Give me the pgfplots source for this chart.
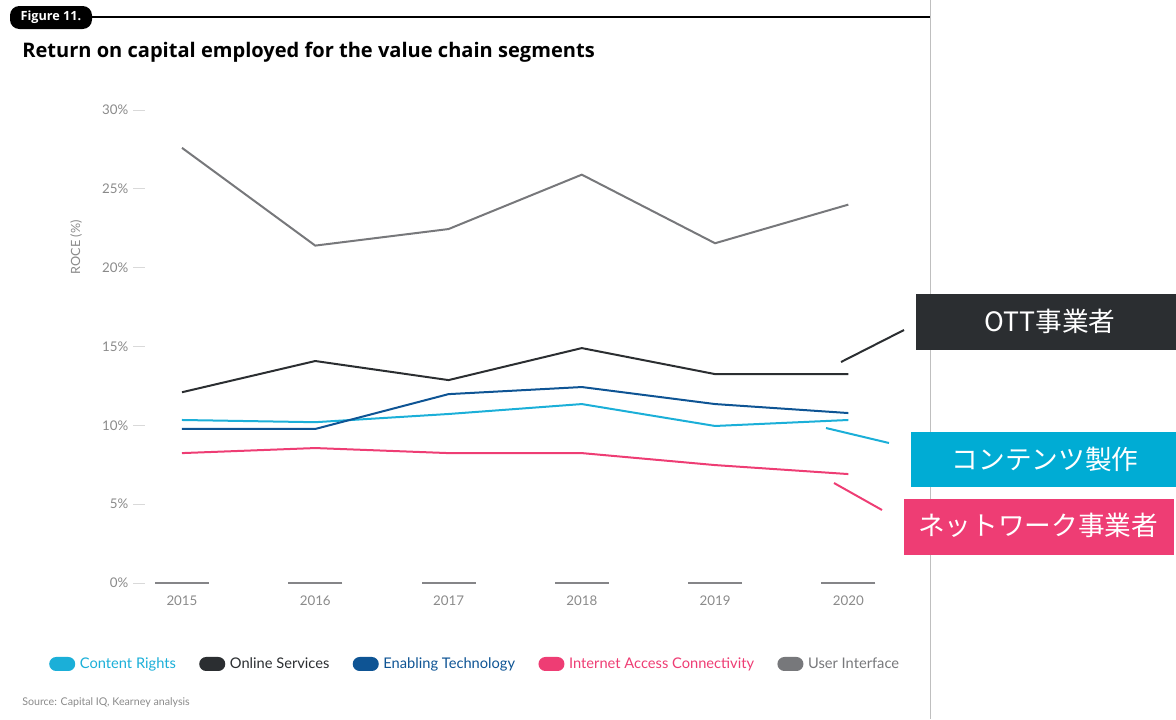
\documentclass[border=0pt]{standalone}
\usepackage{fontspec}
\setmainfont{Lato}
\newfontfamily\titlefont{Open Sans}
\newfontfamily\cjk{Noto Sans CJK JP}
\usepackage{pgfplots}
\pgfplotsset{compat=1.18}
\definecolor{cr}{HTML}{1BAFD8}
\definecolor{crbox}{HTML}{00ACD4}
\definecolor{os}{HTML}{2B2E31}
\definecolor{et}{HTML}{0E5494}
\definecolor{iac}{HTML}{EE3D74}
\definecolor{ui}{HTML}{77787B}
\definecolor{lbl}{HTML}{8A8A8A}
\begin{document}
\begin{tikzpicture}[x=0.75pt,y=-0.75pt]
\path[use as bounding box] (0,0) rectangle (1176,719);
\draw[black, line width=1pt] (90,17) -- (930,17);
\draw[black!25, line width=0.75pt] (930,0) -- (930,719);
\fill[black, rounded corners=7pt] (10,6) rectangle (92,29);
\node[white, font=\titlefont\bfseries\fontsize{9.5}{11}\selectfont] at (51,17.5) {Figure 11.};
\node[anchor=base west, inner sep=0pt, font=\titlefont\bfseries\fontsize{15.05}{17}\selectfont] at (22,57) {Return on capital employed for the value chain segments};
\begin{axis}[
  at={(99.75pt,-437.25pt)}, anchor=south west,
  width=556.5pt, height=354.75pt, scale only axis,
  xmin=-0.3675, xmax=5.2, ymin=0, ymax=30,
  axis line style={draw=none},
  xtick={0,1,2,3,4,5}, xticklabels={2015,2016,2017,2018,2019,2020},
  ytick={0,5,10,15,20,25,30},
  /pgf/number format/assume math mode=true,
  yticklabel={\pgfmathprintnumber{\tick}\%},
  xtick pos=bottom, ytick pos=left, tick align=inside,
  major tick length=9pt,
  x tick style={draw=none},
  y tick style={black!15, line width=0.75pt},
  ticklabel style={font=\fontsize{10}{12}\selectfont, text=lbl},
  xticklabel style={yshift=-6pt},
  ylabel={ROCE (\%)},
  ylabel style={at={(axis description cs:-0.0768,0.71)}, anchor=center, font=\fontsize{9.5}{11}\selectfont, text=lbl},
  clip=false,
  legend columns=5,
  legend style={at={(axis description cs:0.4616,-0.1712)}, anchor=center, draw=none, fill=none,
    font=\fontsize{11}{13}\selectfont,
    /tikz/every even column/.append style={column sep=15.5pt}},
  legend image code/.code={\fill[rounded corners=4.5pt] (0pt,-4.5pt) rectangle (18pt,4.5pt);},
]
\addplot[forget plot, only marks, mark=-, mark size=20.25pt, mark options={line width=1.5pt, draw=ui!90}] coordinates {(0,0)(1,0)(2,0)(3,0)(4,0)(5,0)};
\addplot[color=cr, line width=1.5pt] coordinates {(0,10.34)(1,10.2)(2,10.72)(3,11.35)(4,9.96)(5,10.34)};
\addlegendentry{\hspace{1.5pt}\textcolor{cr}{Content Rights}}
\addplot[color=os, line width=1.5pt] coordinates {(0,12.1)(1,14.08)(2,12.87)(3,14.9)(4,13.25)(5,13.25)};
\addlegendentry{\hspace{1.5pt}\textcolor{os}{Online Services}}
\addplot[color=et, line width=1.5pt] coordinates {(0,9.77)(1,9.77)(2,11.98)(3,12.43)(4,11.35)(5,10.78)};
\addlegendentry{\hspace{1.5pt}\textcolor{et}{Enabling Technology}}
\addplot[color=iac, line width=1.5pt] coordinates {(0,8.24)(1,8.56)(2,8.24)(3,8.24)(4,7.48)(5,6.91)};
\addlegendentry{\hspace{1.5pt}\textcolor{iac}{Internet Access Connectivity}}
\addplot[color=ui, line width=1.5pt] coordinates {(0,27.6)(1,21.4)(2,22.45)(3,25.9)(4,21.55)(5,24.0)};
\addlegendentry{\hspace{1.5pt}\textcolor{ui}{User Interface}}
\end{axis}
\node[anchor=base west, inner sep=0pt, text=lbl, font=\fontsize{8}{10}\selectfont] at (22,705) {Source: Capital IQ, Kearney analysis};
\draw[os, line width=1.5pt] (841,362) -- (904,330);
\fill[os] (916,294) rectangle (1176,350);
\node[white, font=\cjk\fontsize{20}{24}\selectfont] at (1050,321) {OTT事業者};
\draw[cr, line width=1.5pt] (826,428) -- (889,443);
\fill[crbox] (911,432) rectangle (1176,487);
\node[white, font=\cjk\fontsize{20}{24}\selectfont] at (1045,459) {コンテンツ製作};
\draw[iac, line width=1.5pt] (834,483) -- (882,510);
\fill[iac] (904,499) rectangle (1174,555);
\node[white, font=\cjk\fontsize{20}{24}\selectfont] at (1038,525) {ネットワーク事業者};
\end{tikzpicture}
\end{document}
